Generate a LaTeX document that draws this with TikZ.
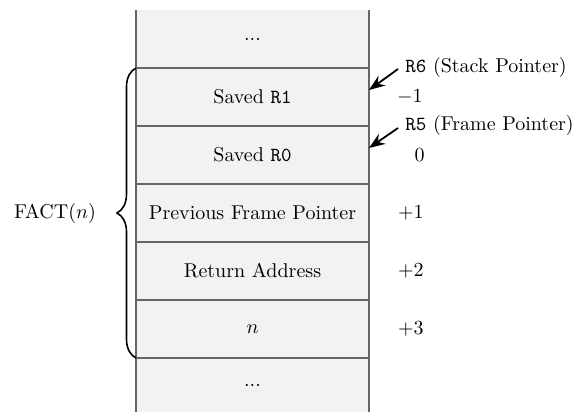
\documentclass[tikz,border=0pt]{standalone}
\usetikzlibrary{arrows.meta,decorations.pathreplacing}
\begin{document}
\begin{tikzpicture}[x=0.5pt,y=-0.5pt,
  cell/.style={fill=black!5, minimum width=116.5pt, minimum height=29pt,
               inner sep=0pt, outer sep=0pt},
  wall/.style={draw=black!60, line width=0.6pt},
  ptr/.style={-{Stealth[length=8pt,width=6pt]}, line width=0.9pt},
  lbl/.style={anchor=west, inner sep=0pt},
  off/.style={anchor=east, inner sep=0pt}]
\useasboundingbox (0,0) rectangle (578,412);

% stack cells
\node[cell] (c0) at (252.5,39)  {...};
\node[cell] (c1) at (252.5,97)  {Saved \texttt{R1}};
\node[cell] (c2) at (252.5,155) {Saved \texttt{R0}};
\node[cell] (c3) at (252.5,213) {Previous Frame Pointer};
\node[cell] (c4) at (252.5,271) {Return Address};
\node[cell] (c5) at (252.5,329) {$n$};
\node[cell, minimum height=27pt] (c6) at (252.5,385) {...};

% column walls and separators
\draw[wall] (c0.north west) -- (c6.south west);
\draw[wall] (c0.north east) -- (c6.south east);
\foreach \k in {1,...,6}
  \draw[wall] (c\k.north west) -- (c\k.north east);

% frame brace
\draw[decorate, decoration={brace, amplitude=9.5pt}, thick]
  (c5.south west) -- (c1.north west);
\node (fact) at (55,213) {FACT($n$)};

% register pointers
\node[lbl] (sp) at (405,67)  {\texttt{R6} (Stack Pointer)};
\node[lbl] (fp) at (405,125) {\texttt{R5} (Frame Pointer)};
\coordinate (sptail) at (398,69);
\coordinate (fptail) at (398,128);
\draw[ptr] (sptail) -- ([yshift=3.5pt]c1.east);
\draw[ptr] (fptail) -- ([yshift=3.5pt]c2.east);

% offsets from the frame pointer
\node[off] (o1) at (423,97)  {$-1$};
\node[off] (o2) at (425,155) {$0$};
\node[off] (o3) at (424,213) {$+1$};
\node[off] (o4) at (424,271) {$+2$};
\node[off] (o5) at (424,329) {$+3$};
\end{tikzpicture}
\end{document}
